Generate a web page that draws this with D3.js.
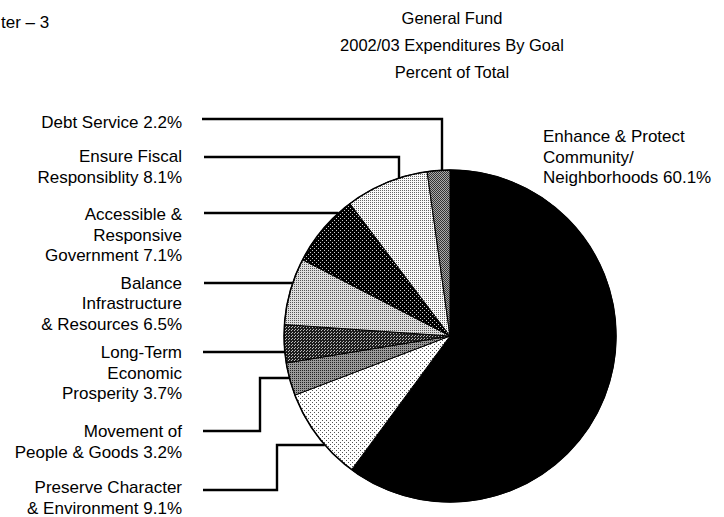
<!DOCTYPE html>
<html>
<head>
<meta charset="utf-8">
<script src="https://cdn.jsdelivr.net/npm/d3@7"></script>
<style>
  html, body { margin: 0; padding: 0; background: #fff; }
  svg { display: block; }
  text { font-family: "Liberation Sans", Arial, sans-serif; fill: #000; }
</style>
</head>
<body>
<svg id="chart" width="724" height="517"></svg>
<script>
// Goals, in clockwise order starting at 12 o'clock
const goals = [
  "Enhance & Protect Community/Neighborhoods",
  "Preserve Character & Environment",
  "Movement of People & Goods",
  "Long-Term Economic Prosperity",
  "Balance Infrastructure & Resources",
  "Accessible & Responsive Government",
  "Ensure Fiscal Responsiblity",
  "Debt Service"
];
// Share of 2002/03 General Fund expenditures (percent)
const percents = [60.1, 9.1, 3.2, 3.7, 6.5, 7.1, 8.1, 2.2];
// Label text lines; the percent is appended to the last line
const labelLines = [
  ["Enhance & Protect", "Community/", "Neighborhoods"],
  ["Preserve Character", "& Environment"],
  ["Movement of", "People & Goods"],
  ["Long-Term", "Economic", "Prosperity"],
  ["Balance", "Infrastructure", "& Resources"],
  ["Accessible &", "Responsive", "Government"],
  ["Ensure Fiscal", "Responsiblity"],
  ["Debt Service"]
];
const titleLines = ["General Fund", "2002/03 Expenditures By Goal", "Percent of Total"];
const pageHeader = "ter \u2013 3";

// ---- layout ----
const cx = 450, cy = 336, R = 166;
const lineH = 20.6;
// text anchor, first baseline, leader path (last segment runs to the pie edge)
const labelLayout = [
  { x: 543, y: 142, anchor: "start", leader: null },
  { x: 182, y: 493, anchor: "end", leader: { pts: [[203, 490], [277, 490], [277, 445]], end: "h" } },
  { x: 182, y: 437, anchor: "end", leader: { pts: [[203, 431], [260, 431], [260, 378]], end: "h" } },
  { x: 182, y: 358, anchor: "end", leader: { pts: [[203, 352]], end: "h" } },
  { x: 182, y: 288.5, anchor: "end", leader: { pts: [[204, 283]], end: "h" } },
  { x: 182, y: 220, anchor: "end", leader: { pts: [[204, 213]], end: "h" } },
  { x: 182, y: 162, anchor: "end", leader: { pts: [[204, 157], [399, 157]], end: "v" } },
  { x: 182, y: 127.5, anchor: "end", leader: { pts: [[202, 119], [442, 119]], end: "v" } }
];

const svg = d3.select("#chart");
const defs = svg.append("defs");

// halftone-style fills: background colour with a grid of dots
function halftone(id, bg, dot, size, cells) {
  const p = defs.append("pattern")
    .attr("id", id).attr("patternUnits", "userSpaceOnUse")
    .attr("width", size).attr("height", size);
  p.append("rect").attr("width", size).attr("height", size).attr("fill", bg);
  cells.forEach(([x, y]) => p.append("rect").attr("x", x).attr("y", y)
    .attr("width", 1).attr("height", 1).attr("fill", dot));
  return `url(#${id})`;
}
const fills = [
  "#000",
  halftone("p-preserve", "#fff", "#555", 4, [[0, 0], [2, 2]]),
  halftone("p-movement", "#9a9a9a", "#222", 2, [[0, 0]]),
  halftone("p-longterm", "#1c1c1c", "#bbb", 3, [[0, 0], [1, 2]]),
  halftone("p-balance", "#dedede", "#555", 2, [[0, 0]]),
  halftone("p-access", "#000", "#ccc", 4, [[0, 0], [2, 2]]),
  halftone("p-fiscal", "#fafafa", "#666", 2, [[0, 0]]),
  halftone("p-debt", "#aaa", "#333", 2, [[0, 0], [1, 1]])
];

// ---- title ----
svg.append("g").selectAll("text").data(titleLines).join("text")
  .attr("x", 452).attr("y", (d, i) => 24 + i * 27)
  .attr("text-anchor", "middle").style("font-size", "16.5px")
  .text(d => d);
svg.append("text").attr("x", 1).attr("y", 28).style("font-size", "17px").text(pageHeader);

// ---- pie ----
const data = goals.map((g, i) => ({ goal: g, pct: percents[i], i }));
const pie = d3.pie().sort(null).value(d => d.pct).startAngle(0).endAngle(2 * Math.PI);
const arc = d3.arc().innerRadius(0).outerRadius(R);
const arcs = pie(data);

const pieG = svg.append("g").attr("transform", `translate(${cx},${cy})`);
pieG.selectAll("path").data(arcs).join("path")
  .attr("d", arc)
  .attr("fill", d => fills[d.data.i])
  .attr("stroke", "#000").attr("stroke-width", 1).attr("stroke-linejoin", "round");
pieG.append("circle").attr("r", R).attr("fill", "none")
  .attr("stroke", "#000").attr("stroke-width", 1.5);

// ---- leaders ----
function leaderPoints(L) {
  const pts = L.pts.slice();
  const last = pts[pts.length - 1];
  if (L.end === "h") {
    const dy = last[1] - cy;
    pts.push([cx - Math.sqrt(R * R - dy * dy), last[1]]);
  } else {
    const dx = last[0] - cx;
    pts.push([last[0], cy - Math.sqrt(R * R - dx * dx)]);
  }
  return pts;
}
const line = d3.line();
svg.append("g").selectAll("path")
  .data(labelLayout.filter(l => l.leader))
  .join("path")
  .attr("d", l => line(leaderPoints(l.leader)))
  .attr("fill", "none").attr("stroke", "#000")
  .attr("stroke-width", 2.4).attr("stroke-linejoin", "miter");

// ---- labels ----
const fmt = d3.format(".1f");
const labels = svg.append("g");
data.forEach((d, i) => {
  const L = labelLayout[i];
  const lines = labelLines[i].slice();
  lines[lines.length - 1] = `${lines[lines.length - 1]} ${fmt(d.pct)}%`;
  const t = labels.append("text")
    .attr("text-anchor", L.anchor).style("font-size", "17px");
  lines.forEach((s, k) => t.append("tspan")
    .attr("x", L.x).attr("y", L.y + k * lineH).text(s));
});
</script>
</body>
</html>
